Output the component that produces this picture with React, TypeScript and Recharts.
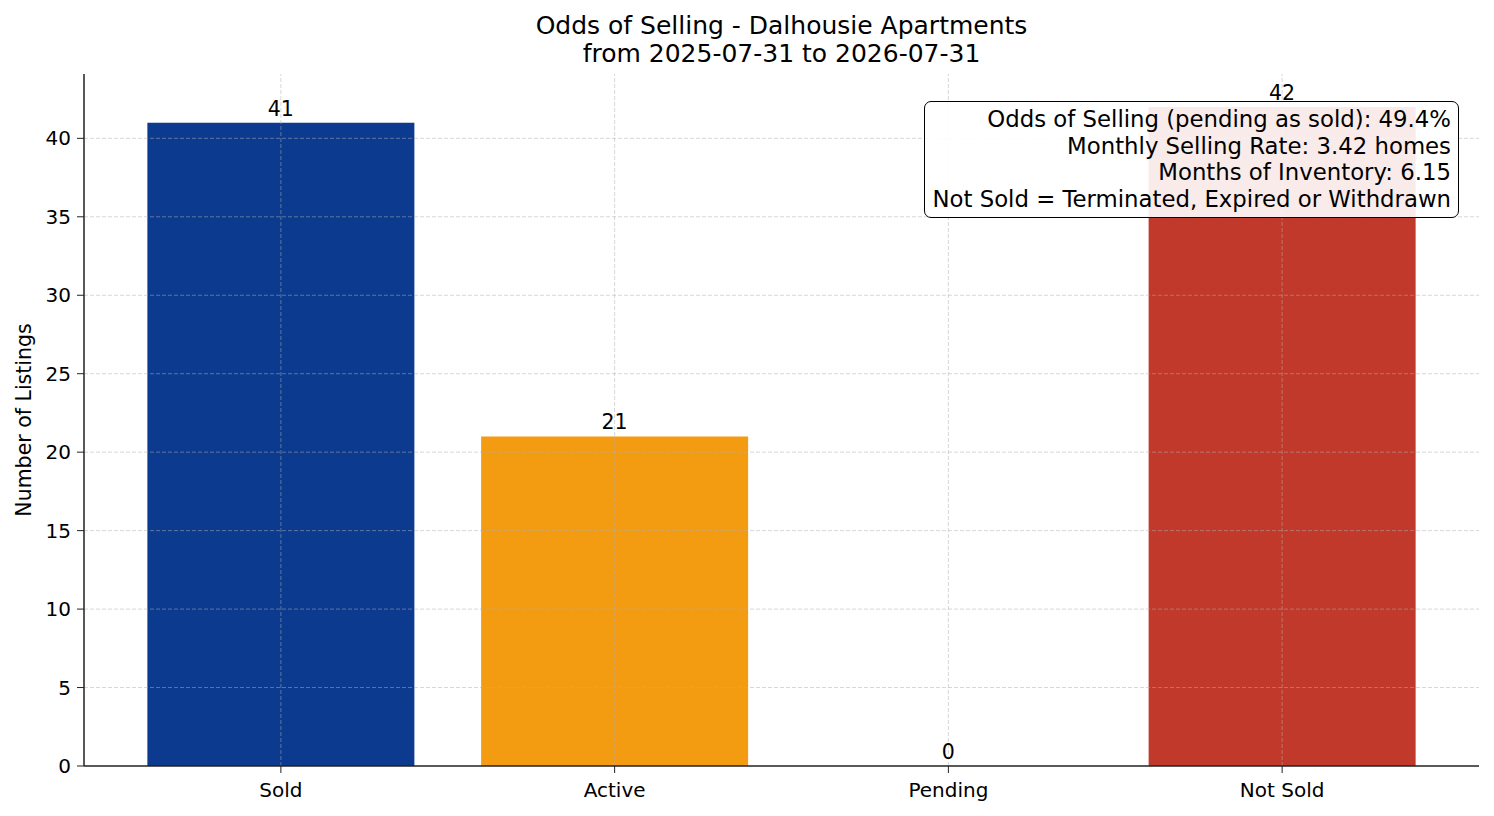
import { Bar, BarChart, Cell, LabelList, ReferenceDot, ReferenceLine, XAxis, YAxis } from "recharts";

const CATEGORIES = ["Sold", "Active", "Pending", "Not Sold"];
const COUNTS = [41, 21, 0, 42];
const COLORS = ["#0b3a8f", "#f39c12", "#c0392b", "#c0392b"];
const Y_TICKS = [0, 5, 10, 15, 20, 25, 30, 35, 40];
const TITLE = ["Odds of Selling - Dalhousie Apartments", "from 2025-07-31 to 2026-07-31"];
const NOTES = [
  "Odds of Selling (pending as sold): 49.4%",
  "Monthly Selling Rate: 3.42 homes",
  "Months of Inventory: 6.15",
  "Not Sold = Terminated, Expired or Withdrawn",
];

const FONT = "DejaVu Sans, sans-serif";
const INK = "#222";

const data = CATEGORIES.map((name, i) => ({ name, count: COUNTS[i] }));

const tick = { fill: "#000", fontSize: 20, fontFamily: FONT };
const barLabel = { fill: "#000", fontSize: 20.5, fontFamily: FONT };
// dashed grid drawn over the bars, like the matplotlib original
const grid = { stroke: "#b0b0b0", strokeOpacity: 0.5, strokeDasharray: "4 2", strokeWidth: 1 };

export default function App() {
  return (
    <div style={{ position: "absolute", left: 0, top: 0, width: 1494, height: 816, background: "#fff", fontFamily: FONT }}>
      <BarChart width={1494} height={816} data={data} margin={{ top: 74, right: 15, left: 24, bottom: 20 }} barCategoryGap="10%">
        <XAxis
          dataKey="name"
          padding={{ left: 30, right: 30 }}
          tick={tick}
          fontSize={20}
          tickSize={7}
          tickMargin={10}
          tickLine={{ stroke: INK }}
          axisLine={{ stroke: INK, strokeWidth: 1.5 }}
          height={30}
          interval={0}
        />
        <YAxis
          domain={[0, 44.1]}
          ticks={Y_TICKS}
          tick={tick}
          fontSize={20}
          tickSize={7}
          tickMargin={6}
          tickLine={{ stroke: INK }}
          axisLine={{ stroke: INK, strokeWidth: 1.5 }}
          width={60}
          allowDataOverflow
        />
        <Bar dataKey="count" isAnimationActive={false}>
          {data.map((d, i) => (
            <Cell key={d.name} fill={COLORS[i]} />
          ))}
          <LabelList dataKey="count" position="top" offset={7} {...barLabel} />
        </Bar>
        {Y_TICKS.slice(1).map((v) => (
          <ReferenceLine key={`y${v}`} y={v} {...grid} />
        ))}
        {CATEGORIES.map((c) => (
          <ReferenceLine key={`x${c}`} x={c} {...grid} />
        ))}
        {/* zero-height bars get no label from LabelList */}
        {data
          .filter((d) => d.count === 0)
          .map((d) => (
            <ReferenceDot
              key={`z${d.name}`}
              x={d.name}
              y={d.count}
              r={0}
              fill="none"
              stroke="none"
              label={{ value: String(d.count), position: "top", offset: 7, ...barLabel }}
            />
          ))}
      </BarChart>

      <div
        style={{
          position: "absolute",
          left: 84,
          top: 12,
          width: 1395,
          textAlign: "center",
          fontSize: 25,
          lineHeight: "28px",
          color: "#000",
          whiteSpace: "nowrap",
        }}
      >
        {TITLE.map((t) => (
          <div key={t}>{t}</div>
        ))}
      </div>

      <div
        style={{
          position: "absolute",
          left: 24,
          top: 420,
          transform: "translate(-50%, -50%) rotate(-90deg)",
          whiteSpace: "nowrap",
          fontSize: 20.5,
          color: "#000",
        }}
      >
        Number of Listings
      </div>

      <div
        style={{
          position: "absolute",
          left: 924,
          top: 101,
          width: 535,
          height: 117,
          boxSizing: "border-box",
          border: "1.6px solid #000",
          borderRadius: 7,
          background: "rgba(255,255,255,0.9)",
          padding: "4px 7px 0 0",
          textAlign: "right",
          fontSize: 22.8,
          lineHeight: "26.5px",
          color: "#000",
          whiteSpace: "nowrap",
        }}
      >
        {NOTES.map((t) => (
          <div key={t}>{t}</div>
        ))}
      </div>
    </div>
  );
}
